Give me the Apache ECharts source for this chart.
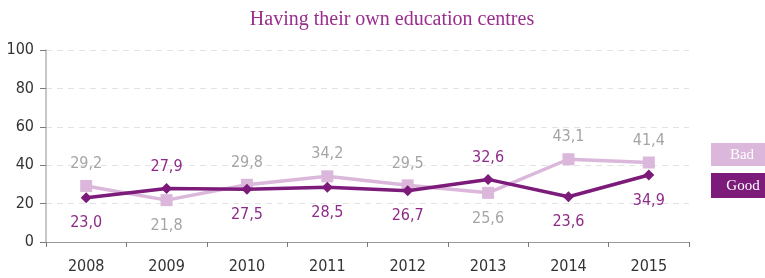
<!DOCTYPE html>
<html>
<head>
<meta charset="utf-8">
<script src="https://cdn.jsdelivr.net/npm/echarts@6/dist/echarts.min.js"></script>
<style>
html, body { margin: 0; padding: 0; background: #fff; }
#main { width: 765px; height: 278px; }
</style>
</head>
<body>
<div id="main"></div>
<script>
var years = ['2008', '2009', '2010', '2011', '2012', '2013', '2014', '2015'];
var badValues = [29.2, 21.8, 29.8, 34.2, 29.5, 25.6, 43.1, 41.4];
var goodValues = [23.0, 27.9, 27.5, 28.5, 26.7, 32.6, 23.6, 34.9];
var yTicks = [0, 20, 40, 60, 80, 100];

var numFont = "'DejaVu Sans', sans-serif";
var badColor = '#dbb8db';
var goodColor = '#7c1b79';

// label above for the higher value, below for the lower one
var makeData = function (vals, other) {
    return vals.map(function (v, i) {
        var up = v >= other[i];
        return {
            value: v,
            label: { position: up ? 'top' : 'bottom', distance: up ? 8 : 12 }
        };
    });
};

var fmt = function (p) { return p.value.toFixed(1).replace('.', ','); };

var myChart = echarts.init(document.getElementById('main'));
myChart.setOption({
    animation: false,
    title: {
        text: 'Having their own education centres',
        left: 387,
        textAlign: 'center',
        top: 5,
        textStyle: { fontFamily: 'Liberation Serif', fontWeight: 'normal', fontSize: 20, color: '#9a2d8e' }
    },
    grid: { left: 46, right: 76, top: 50, bottom: 36 },
    xAxis: {
        type: 'category',
        data: years,
        boundaryGap: true,
        axisLine: { lineStyle: { color: '#9a9a9a', width: 1 } },
        axisTick: { show: true, length: 5, lineStyle: { color: '#7a7a7a' } },
        axisLabel: { fontFamily: numFont, fontStyle: 'condensed', fontSize: 16, color: '#333', margin: 17 }
    },
    yAxis: {
        type: 'value',
        min: yTicks[0],
        max: yTicks[yTicks.length - 1],
        interval: 20,
        axisLine: { show: true, lineStyle: { color: '#b5b5b5', width: 1.5 } },
        axisTick: { show: true, length: 6, lineStyle: { color: '#7a7a7a' } },
        axisLabel: { fontFamily: numFont, fontStyle: 'condensed', fontSize: 16, color: '#333', margin: 12 },
        splitLine: { lineStyle: { color: '#e3e3e3', type: [6, 5] } }
    },
    series: [{
        name: 'Bad',
        type: 'line',
        data: makeData(badValues, goodValues),
        symbol: 'rect',
        symbolSize: 12,
        itemStyle: { color: badColor },
        lineStyle: { color: badColor, width: 3.5 },
        label: {
            show: true,
            fontFamily: numFont,
            fontStyle: 'condensed',
            fontSize: 16,
            color: '#a5a5a5',
            formatter: fmt
        },
        z: 2
    }, {
        name: 'Good',
        type: 'line',
        data: makeData(goodValues, badValues),
        symbol: 'diamond',
        symbolSize: 11,
        itemStyle: { color: goodColor },
        lineStyle: { color: goodColor, width: 3.5 },
        label: {
            show: true,
            fontFamily: numFont,
            fontStyle: 'condensed',
            fontSize: 16,
            color: '#8e2b8a',
            formatter: fmt
        },
        z: 3
    }],
    graphic: [{
        type: 'rect',
        shape: { x: 711, y: 143, width: 60, height: 23 },
        style: { fill: badColor }
    }, {
        type: 'text',
        x: 742, y: 155,
        style: { text: 'Bad', fill: '#fff', font: '15px "Liberation Serif"', align: 'center', verticalAlign: 'middle' }
    }, {
        type: 'rect',
        shape: { x: 711, y: 173, width: 60, height: 25 },
        style: { fill: goodColor }
    }, {
        type: 'text',
        x: 743, y: 186,
        style: { text: 'Good', fill: '#fff', font: '15px "Liberation Serif"', align: 'center', verticalAlign: 'middle' }
    }]
});
</script>
</body>
</html>
